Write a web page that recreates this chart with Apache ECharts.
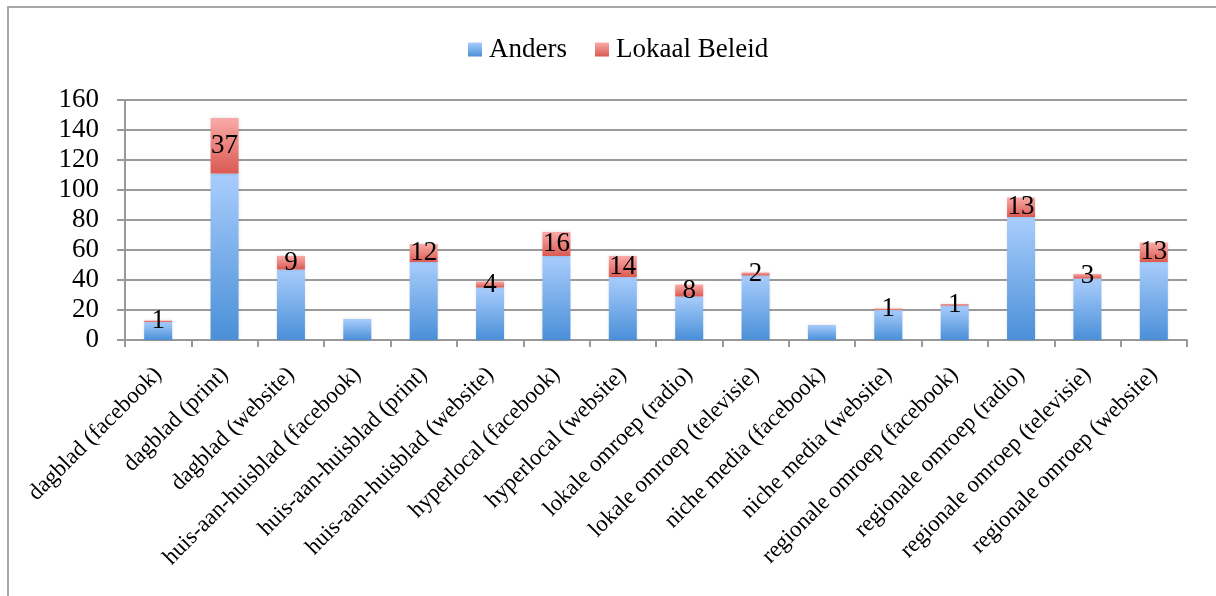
<!DOCTYPE html>
<html>
<head>
<meta charset="utf-8">
<script src="https://cdn.jsdelivr.net/npm/echarts@6/dist/echarts.min.js"></script>
<style>
html,body{margin:0;padding:0;background:#fff;}
#main{width:1216px;height:596px;}
</style>
</head>
<body>
<div id="main"></div>
<script>
// categorieen
var categories = [
	'dagblad (facebook)', 'dagblad (print)', 'dagblad (website)',
	'huis-aan-huisblad (facebook)', 'huis-aan-huisblad (print)', 'huis-aan-huisblad (website)',
	'hyperlocal (facebook)', 'hyperlocal (website)',
	'lokale omroep (radio)', 'lokale omroep (televisie)',
	'niche media (facebook)', 'niche media (website)',
	'regionale omroep (facebook)', 'regionale omroep (radio)',
	'regionale omroep (televisie)', 'regionale omroep (website)'
];
var anders = [12, 111, 47, 14, 52, 35, 56, 42, 29, 43, 10, 20, 23, 82, 41, 52];
var lokaalBeleid = [1, 37, 9, 0, 12, 4, 16, 14, 8, 2, 0, 1, 1, 13, 3, 13];
var yTicks = [0, 20, 40, 60, 80, 100, 120, 140, 160];

var serif = '"Liberation Serif", "DejaVu Serif", serif';

function grad(top, bottom){
	return new echarts.graphic.LinearGradient(0, 0, 0, 1, [
		{offset: 0, color: top},
		{offset: 1, color: bottom}
	]);
}

var myChart = echarts.init(document.getElementById('main'));

var option = {
	animation: false,
	textStyle: {fontFamily: serif},
	graphic: [{
		type: 'rect',
		shape: {x: 8, y: 7, width: 1400, height: 800},
		style: {fill: 'none', stroke: '#a8a8a8', lineWidth: 2},
		silent: true
	}],
	legend: {
		top: 31,
		left: 463,
		itemWidth: 14,
		itemHeight: 14,
		itemGap: 28,
		icon: 'rect',
		textStyle: {fontFamily: serif, fontSize: 27, color: '#000', padding: [0, 0, 0, 2]},
		data: ['Anders', 'Lokaal Beleid']
	},
	grid: {left: 125, right: 29, top: 100, bottom: 256, containLabel: false},
	xAxis: {
		type: 'category',
		data: categories,
		axisLine: {lineStyle: {color: '#999', width: 2}},
		axisTick: {show: true, length: 7, lineStyle: {color: '#999', width: 2}},
		axisLabel: {
			interval: 0,
			rotate: 45,
			margin: 31,
			fontFamily: serif,
			fontSize: 23,
			color: '#000'
		}
	},
	yAxis: {
		type: 'value',
		min: yTicks[0],
		max: yTicks[yTicks.length - 1],
		interval: 20,
		axisLine: {show: true, lineStyle: {color: '#999', width: 2}},
		axisTick: {show: true, inside: false, length: 8, lineStyle: {color: '#999', width: 2}},
		splitLine: {lineStyle: {color: '#9a9a9a', width: 2}},
		axisLabel: {margin: 26, fontFamily: serif, fontSize: 27, color: '#000'}
	},
	series: [{
		name: 'Anders',
		type: 'bar',
		stack: 'totaal',
		barWidth: 28,
		data: anders,
		itemStyle: {color: grad('#a9cdfc', '#4a8fd8'), shadowColor: 'rgba(0,0,0,0.15)', shadowBlur: 3}
	}, {
		name: 'Lokaal Beleid',
		type: 'bar',
		stack: 'totaal',
		barWidth: 28,
		data: lokaalBeleid,
		itemStyle: {color: grad('#faaaa7', '#da5a52'), shadowColor: 'rgba(0,0,0,0.15)', shadowBlur: 3},
		label: {
			show: true,
			position: 'inside',
			fontFamily: serif,
			fontSize: 27,
			color: '#000',
			formatter: function(p){ return p.value > 0 ? p.value : ''; }
		}
	}]
};

myChart.setOption(option);
</script>
</body>
</html>
